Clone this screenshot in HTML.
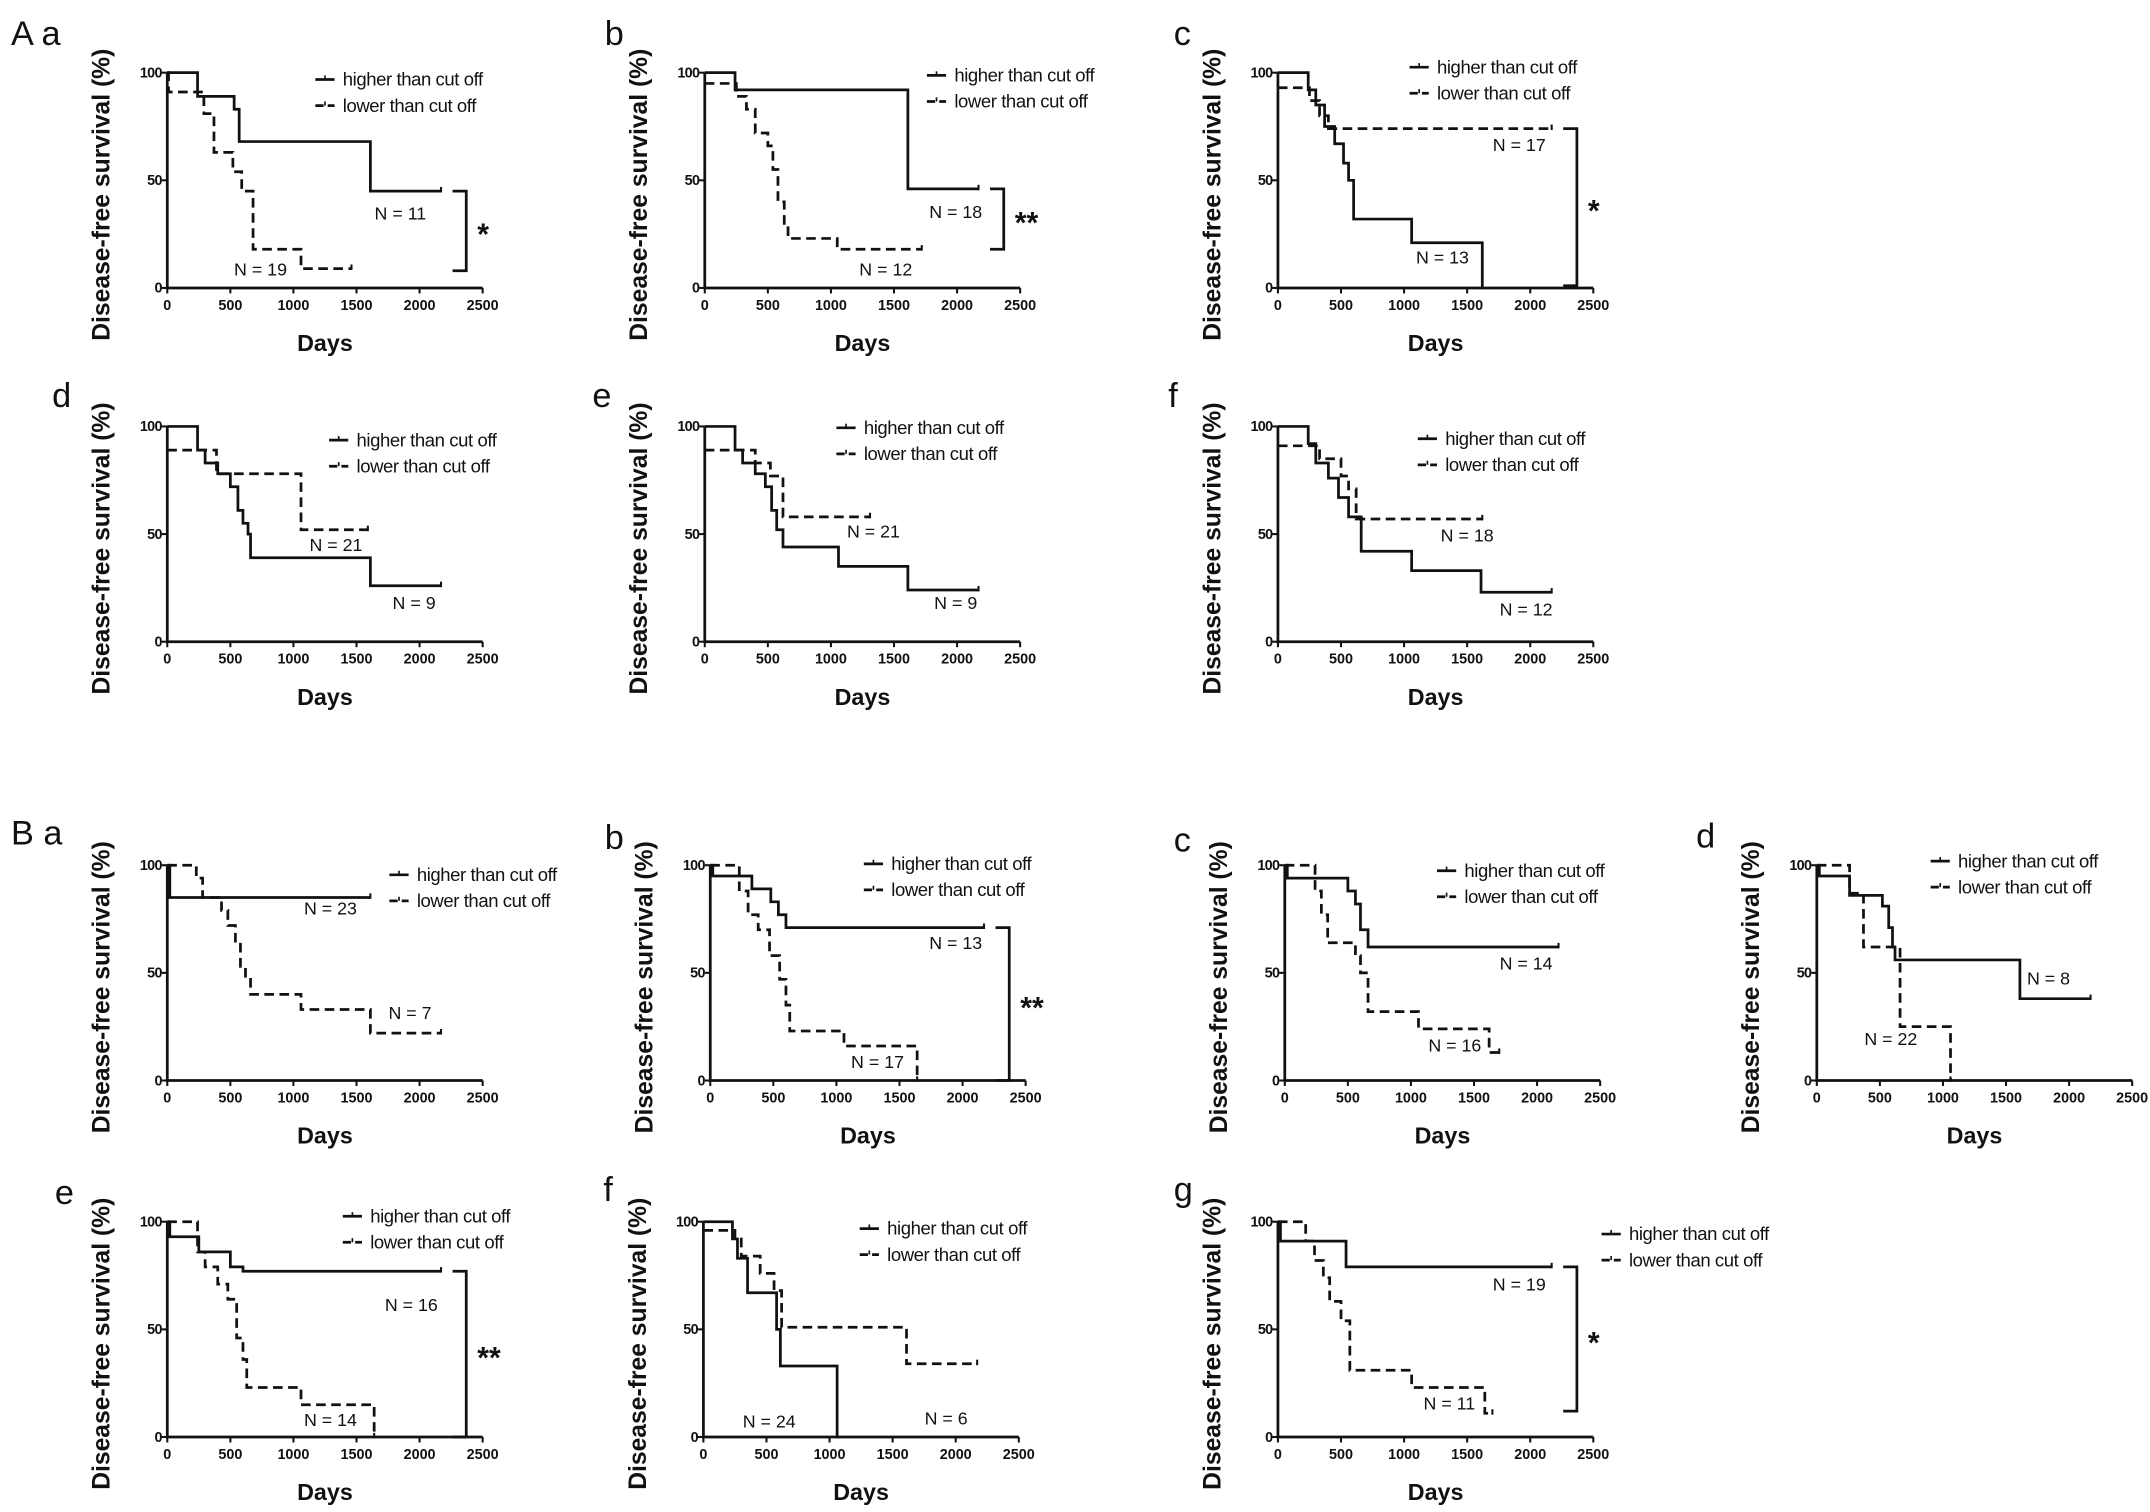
<!DOCTYPE html>
<html><head><meta charset="utf-8"><style>
html,body{margin:0;padding:0;background:#fff}
svg{display:block}
text{font-family:"Liberation Sans",sans-serif;fill:#111}
</style></head><body>
<svg id="fig" width="2150" height="1512" viewBox="0 0 1568 1102.7" xmlns="http://www.w3.org/2000/svg"></svg>
<script>
// ---- data: each curve is [days, survival%] step points ----
const panelIds = ["Aa","Ab","Ac","Ad","Ae","Af","Ba","Bb","Bc","Bd","Be","Bf","Bg"];
const xTicks = [0,500,1000,1500,2000,2500];
const yTicks = [0,50,100];
const highAa=[[0,100],[240,89],[530,83],[570,68],[1610,45],[2170,45]];
const lowAa=[[0,100],[10,91],[290,81],[370,63],[520,54],[590,45],[680,18],[1060,9],[1460,9]];
const highAb=[[0,100],[240,92],[1610,46],[2170,46]];
const lowAb=[[0,95],[250,89],[330,83],[400,72],[500,66],[540,55],[580,40],[630,30],[660,23],[1050,18],[1720,18]];
const highAc=[[0,100],[240,92],[300,85],[370,75],[450,67],[520,58],[560,50],[600,32],[660,32],[1060,21],[1620,0]];
const lowAc=[[0,93],[250,87],[330,80],[400,74],[2170,74]];
const highAd=[[0,100],[240,89],[300,83],[400,78],[500,72],[560,61],[600,55],[640,50],[660,39],[1610,26],[2170,26]];
const lowAd=[[0,89],[390,78],[1060,52],[1590,52]];
const highAe=[[0,100],[240,89],[300,83],[400,78],[480,72],[530,61],[570,52],[620,44],[1060,35],[1610,24],[2170,24]];
const lowAe=[[0,89],[400,83],[520,77],[620,58],[1310,58]];
const highAf=[[0,100],[240,92],[300,83],[400,76],[480,67],[560,58],[660,42],[1060,33],[1610,23],[2170,23]];
const lowAf=[[0,91],[330,85],[500,77],[560,71],[620,57],[1620,57]];
const highBa=[[0,100],[20,85],[1610,85]];
const lowBa=[[0,100],[230,94],[280,85],[430,79],[480,72],[540,64],[580,53],[620,47],[660,40],[1060,33],[1610,22],[2170,22]];
const highBb=[[0,100],[20,95],[330,89],[480,83],[540,77],[600,71],[2170,71]];
const lowBb=[[0,100],[230,88],[300,77],[380,70],[470,58],[550,47],[600,35],[630,23],[660,23],[1060,16],[1640,0]];
const highBc=[[0,100],[20,94],[500,88],[560,82],[600,70],[660,62],[2170,62]];
const lowBc=[[0,100],[240,88],[290,77],[340,64],[560,58],[600,50],[660,32],[1060,24],[1620,13],[1700,13]];
const highBd=[[0,100],[20,95],[260,86],[520,81],[570,71],[600,62],[620,56],[1610,38],[2170,38]];
const lowBd=[[0,100],[260,87],[370,62],[660,25],[1060,0]];
const highBe=[[0,100],[20,93],[250,86],[500,79],[600,77],[2170,77]];
const lowBe=[[0,100],[240,86],[300,79],[400,71],[480,64],[550,46],[600,36],[630,23],[660,23],[1060,15],[1640,0]];
const highBf=[[0,100],[230,92],[270,83],[350,67],[580,50],[610,33],[1060,0]];
const lowBf=[[0,96],[250,92],[300,84],[450,76],[560,68],[620,51],[1610,34],[2170,34]];
const highBg=[[0,100],[20,91],[540,79],[2170,79]];
const lowBg=[[0,100],[220,91],[290,82],[360,74],[410,63],[500,54],[570,31],[640,31],[1060,23],[1640,11],[1700,11]];
const nHigh=[11,18,13,9,9,12,23,13,14,8,16,24,19];
const nLow=[19,12,17,21,21,18,7,17,16,22,14,6,11];
const sig=["*","**","*","","","","","**","","","**","","*"];
// bracket ends (survival %) for significance markers
const bracketTop=[45,46,74,0,0,0,0,71,0,0,77,0,79];
const bracketBot=[8,18,1,0,0,0,0,0,0,0,0,0,12];
const highSeries=[highAa,highAb,highAc,highAd,highAe,highAf,highBa,highBb,highBc,highBd,highBe,highBf,highBg];
const lowSeries=[lowAa,lowAb,lowAc,lowAd,lowAe,lowAf,lowBa,lowBb,lowBc,lowBd,lowBe,lowBf,lowBg];

// ---- layout (not data) ----
const layout=[
 {x:122,y:210,lab:"A a",lx:8,ly:33,leg:[230,58],nh:[170,-54],nl:[68,-13]},
 {x:514,y:210,lab:"b",lx:441,ly:33,leg:[676,55],nh:[183,-55],nl:[132,-13]},
 {x:932,y:210,lab:"c",lx:856,ly:33,leg:[1028,49],nh:[120,-22],nl:[176,-104]},
 {x:122,y:468,lab:"d",lx:38,ly:297,leg:[240,321],nh:[180,-28],nl:[123,-70]},
 {x:514,y:468,lab:"e",lx:432,ly:297,leg:[610,312],nh:[183,-28],nl:[123,-80]},
 {x:932,y:468,lab:"f",lx:852,ly:297,leg:[1034,320],nh:[181,-23],nl:[138,-77]},
 {x:122,y:788,lab:"B  a",lx:8,ly:616,leg:[284,638],nh:[119,-125],nl:[177,-49]},
 {x:518,y:788,lab:"b",lx:441,ly:619,leg:[630,630],nh:[179,-100],nl:[122,-13]},
 {x:937,y:788,lab:"c",lx:856,ly:621,leg:[1048,635],nh:[176,-85],nl:[124,-25]},
 {x:1325,y:788,lab:"d",lx:1237,ly:618,leg:[1408,628],nh:[169,-74],nl:[54,-30]},
 {x:122,y:1048,lab:"e",lx:40,ly:878,leg:[250,887],nh:[178,-96],nl:[119,-12]},
 {x:513,y:1048,lab:"f",lx:440,ly:876,leg:[627,896],nh:[48,-11],nl:[177,-13]},
 {x:932,y:1048,lab:"g",lx:856,ly:876,leg:[1168,900],nh:[176,-111],nl:[125,-24]}
];
const W=230,H=157;
const svg=document.getElementById('fig');
const NS="http://www.w3.org/2000/svg";
function mk(tag,attrs,parent){const e=document.createElementNS(NS,tag);for(const k in attrs)e.setAttribute(k,attrs[k]);parent.appendChild(e);return e;}
function txt(s,attrs,parent){const e=mk('text',attrs,parent);e.textContent=s;return e;}

panelIds.forEach((id,i)=>{
 const L=layout[i];
 const g=mk('g',{},svg);
 
 
 const sx=d=>L.x+d/2500*W, sy=v=>L.y-v/100*H;
 const pl=txt(L.lab,{x:L.lx,y:L.ly,'font-size':25,'xml:space':'preserve'},g);
 
 
 const ax=mk('path',{d:`M${L.x} ${sy(100)}V${L.y}H${sx(2500)}`,stroke:'#111','stroke-width':2,fill:'none'},g);
 
 
 xTicks.forEach(t=>{
  mk('line',{x1:sx(t),x2:sx(t),y1:L.y,y2:L.y+4,stroke:'#111','stroke-width':1.5},g);
  const tl=txt(String(t),{x:sx(t),y:L.y+16,'font-size':10.5,'font-weight':'bold','text-anchor':'middle'},g);
  
  
 });
 yTicks.forEach(t=>{
  mk('line',{x1:L.x-4,x2:L.x,y1:sy(t),y2:sy(t),stroke:'#111','stroke-width':1.5},g);
  const tl=txt(String(t),{x:L.x-4,y:sy(t)+3.5,'font-size':10.5,'font-weight':'bold','text-anchor':'end','letter-spacing':'-0.5'},g);
  
  
 });
 const xt=txt('Days',{x:L.x+W/2,y:L.y+46,'font-size':17,'font-weight':'bold','text-anchor':'middle'},g);
 
 
 const yx=L.x-42, yy=L.y-68;
 const yt=txt('Disease-free survival (%)',{x:yx,y:yy,'font-size':18,'font-weight':'bold','text-anchor':'middle',transform:`rotate(-90 ${yx} ${yy})`},g);
 
 
 [[highSeries[i],null,'high'],[lowSeries[i],'7,4','low']].forEach(([pts,dash,nm])=>{
  let d=`M${sx(pts[0][0])} ${sy(pts[0][1])}`;
  for(let k=1;k<pts.length;k++){d+=`H${sx(pts[k][0])}V${sy(pts[k][1])}`;}
  const a={d,stroke:'#111','stroke-width':2,fill:'none'};
  if(dash)a['stroke-dasharray']=dash;
  const p=mk('path',a,g);
  
  
  const last=pts[pts.length-1];
  mk('line',{x1:sx(last[0]),x2:sx(last[0]),y1:sy(last[1])-3,y2:sy(last[1])+1,stroke:'#111','stroke-width':1.5},g);
 });
 const [lx,ly]=L.leg;
 [['higher than cut off',null],['lower than cut off','6,3']].forEach(([s,dash],k)=>{
  const a={x1:lx,x2:lx+14,y1:ly+k*19,y2:ly+k*19,stroke:'#111','stroke-width':2};
  if(dash)a['stroke-dasharray']=dash;
  mk('line',a,g);
  mk('line',{x1:lx+7,x2:lx+7,y1:ly+k*19-3,y2:ly+k*19,stroke:'#111','stroke-width':1.2},g);
  const t=txt(s,{x:lx+20,y:ly+k*19+4.5,'font-size':13.5,'letter-spacing':'-0.3'},g);
  
  
 });
 const a1=txt('N = '+nHigh[i],{x:L.x+L.nh[0],y:L.y+L.nh[1]+4,'font-size':13,'text-anchor':'middle'},g);
 
 
 const a2=txt('N = '+nLow[i],{x:L.x+L.nl[0],y:L.y+L.nl[1]+4,'font-size':13,'text-anchor':'middle'},g);
 
 
 if(sig[i]){
  const bx=sx(2370);
  const br=mk('path',{d:`M${bx-10} ${sy(bracketTop[i])}H${bx}V${sy(bracketBot[i])}H${bx-10}`,stroke:'#111','stroke-width':2,fill:'none'},g);
  
  
  const st=txt(sig[i],{x:bx+8,y:(sy(bracketTop[i])+sy(bracketBot[i]))/2+10,'font-size':22,'font-weight':'bold'},g);
  
  
 }
});
</script>
</body></html>
